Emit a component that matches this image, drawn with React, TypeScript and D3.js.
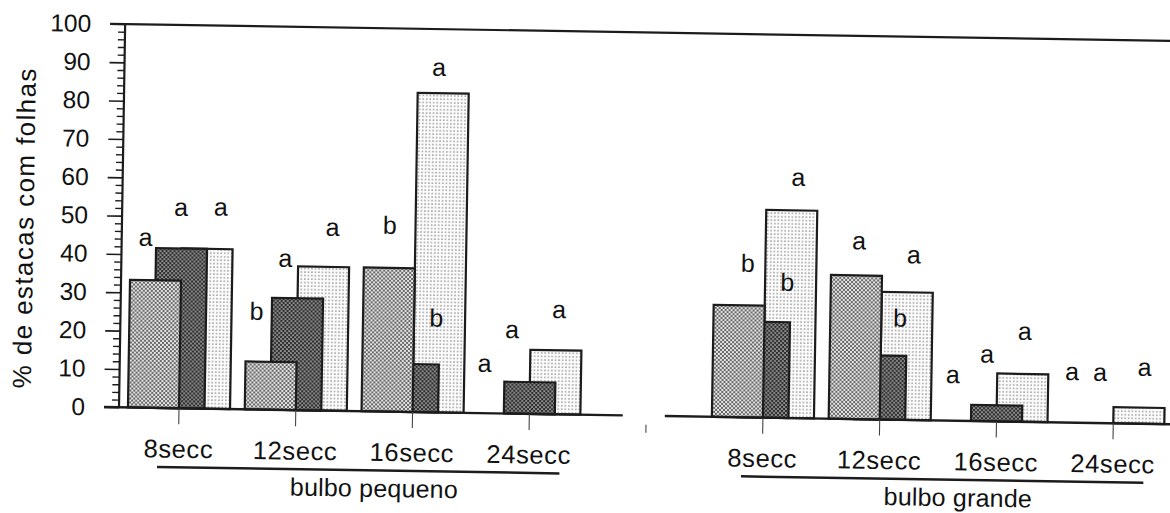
import { useEffect, useRef } from "react";
import * as d3 from "d3";

const bulbs = ["bulbo pequeno", "bulbo grande"];
const times = ["8secc", "12secc", "16secc", "24secc"];
const seriesKeys = ["A", "B", "C"];

// % de estacas com folhas
const pequenoA = [33.3, 12.5, 37.5, 0];
const pequenoB = [41.7, 29.2, 12.5, 8.3];
const pequenoC = [41.7, 37.5, 83.3, 16.7];
const grandeA = [29.2, 37.5, 0, 0];
const grandeB = [25.0, 16.7, 4.2, 0];
const grandeC = [54.2, 33.3, 12.5, 4.2];

// letras de significância, por tempo -> série A/B/C
const pequenoLetters = [["a", "a", "a"], ["b", "a", "a"], ["b", "b", "a"], ["a", "a", "a"]];
const grandeLetters = [["b", "b", "a"], ["a", "b", "a"], ["a", "a", "a"], ["a", "a", "a"]];
// nível (%) onde fica a linha de base de cada letra
const pequenoLetterLevel = [[42.2, 50.2, 50.4], [23.4, 37.3, 45.6], [46.4, 22.4, 87.8], [10.8, 19.7, 25.1]];
const grandeLetterLevel = [[38.0, 33.2, 60.6], [44.3, 24.3, 40.9], [9.8, 15.3, 21.4], [11.1, 11.0, 12.5]];
// deslocamento horizontal da letra, em fração do passo entre tempos
const pequenoLetterShift = [[-0.31, -0.01, 0.33], [-0.35, -0.11, 0.29], [-0.22, 0.19, 0.18], [-0.39, -0.16, 0.24]];
const grandeLetterShift = [[-0.15, 0.19, 0.27], [-0.2, 0.16, 0.27], [-0.38, -0.09, 0.23], [-0.36, -0.12, 0.26]];

const yMajor = d3.range(0, 101, 10);
const yMinor = d3.range(0, 101, 2).filter((v) => v % 10 !== 0);

const FONT = '"Liberation Sans", Arial, Helvetica, sans-serif';
const INK = "#1c1c1c";

export default function App() {
  const yMajorRef = useRef<SVGGElement>(null);
  const yMinorRef = useRef<SVGGElement>(null);

  // 9 posições: 4 tempos, uma vaga, 4 tempos
  const x = d3.scalePoint<number>().domain(d3.range(9)).range([60, 60 + 8 * 116.8]);
  const step = x.step();
  const barW = step * 0.437;
  const xs = d3.scalePoint<string>().domain(seriesKeys).range([-barW / 2, barW / 2]);
  const y = d3.scaleLinear().domain([0, 100]).range([0, -383.3]);

  const values = [
    [pequenoA, pequenoB, pequenoC],
    [grandeA, grandeB, grandeC]
  ];
  const letters = [pequenoLetters, grandeLetters];
  const letterLevel = [pequenoLetterLevel, grandeLetterLevel];
  const letterShift = [pequenoLetterShift, grandeLetterShift];
  const slotOf = (gi: number, ti: number) => gi * 5 + ti;
  const blankSlot = 4;

  type Bar = { key: string; si: number; x: number; v: number };
  const bars: Bar[] = [];
  // série C atrás, A à frente
  for (let si = seriesKeys.length - 1; si >= 0; si--) {
    bulbs.forEach((_, gi) => {
      times.forEach((t, ti) => {
        const v = values[gi]![si]![ti]!;
        if (v <= 0) return;
        const cx = x(slotOf(gi, ti))! + xs(seriesKeys[si]!)!;
        bars.push({ key: `${gi}-${t}-${si}`, si, x: cx - barW / 2, v });
      });
    });
  }

  useEffect(() => {
    if (!yMajorRef.current || !yMinorRef.current) return;
    d3.select(yMajorRef.current)
      .call(d3.axisLeft(y).tickValues(yMajor).tickSize(15).tickPadding(19).tickFormat(d3.format("d")))
      .attr("font-size", 24.5)
      .attr("font-family", FONT)
      .call((g) => g.select(".domain").remove())
      .call((g) => g.selectAll("line").attr("stroke", INK).attr("stroke-width", 1.6))
      .call((g) => g.selectAll("text").attr("fill", "#111"));
    d3.select(yMinorRef.current)
      .call(d3.axisLeft(y).tickValues(yMinor).tickSize(7).tickFormat(() => ""))
      .call((g) => g.select(".domain").remove())
      .call((g) => g.selectAll("line").attr("stroke", INK).attr("stroke-width", 1.4));
  }, []);

  const fills = ["url(#fillA)", "url(#fillB)", "url(#fillC)"];
  const gapL = x(blankSlot)! - step * 0.2;
  const gapR = x(blankSlot)! + step * 0.16;

  return (
    <svg width={1170} height={513} style={{ position: "absolute", left: 0, top: 0, background: "#fff" }}>
      <defs>
        <pattern id="fillA" width={4} height={4} patternUnits="userSpaceOnUse">
          <rect width={4} height={4} fill="#e4e4e4" />
          <circle cx={1} cy={1} r={0.95} fill="#333" />
          <circle cx={3} cy={3} r={0.95} fill="#333" />
        </pattern>
        <pattern id="fillB" width={4} height={4} patternUnits="userSpaceOnUse">
          <rect width={4} height={4} fill="#2e2e2e" />
          <circle cx={1} cy={1} r={0.85} fill="#e0e0e0" />
          <circle cx={3} cy={3} r={0.85} fill="#e0e0e0" />
        </pattern>
        <pattern id="fillC" width={3.5} height={3.5} patternUnits="userSpaceOnUse">
          <rect width={3.5} height={3.5} fill="#fbfbfb" />
          <circle cx={1.75} cy={1.75} r={0.75} fill="#777" />
        </pattern>
      </defs>

      <g transform="translate(119,407.3) rotate(0.92)" fontFamily={FONT} fill="#111">
        {/* título do eixo y */}
        <text
          transform="translate(-88.5,-178) rotate(-90)"
          textAnchor="middle"
          fontSize={26}
          letterSpacing={1.4}
        >
          % de estacas com folhas
        </text>

        <g ref={yMinorRef} />
        <g ref={yMajorRef} />

        {/* eixo y e linha superior */}
        <line x1={0} x2={0} y1={0} y2={y(100)} stroke={INK} strokeWidth={2.2} />
        <line x1={-15} x2={1100} y1={y(100)} y2={y(100)} stroke={INK} strokeWidth={2.2} />

        {bars.map((b) => (
          <rect
            key={b.key}
            x={b.x}
            y={y(b.v)}
            width={barW}
            height={y(0) - y(b.v)}
            fill={fills[b.si]}
            stroke={INK}
            strokeWidth={2.2}
          />
        ))}

        {/* linha de base, interrompida na vaga */}
        <line x1={-15} x2={gapL} y1={0} y2={0} stroke={INK} strokeWidth={2.4} />
        <line x1={gapR} x2={1100} y1={0} y2={0} stroke={INK} strokeWidth={2.4} />
        <line x1={x(blankSlot)} x2={x(blankSlot)} y1={9} y2={17} stroke="#555" strokeWidth={1.2} />

        {bulbs.map((b, gi) => {
          const first = x(slotOf(gi, 0))!;
          const last = x(slotOf(gi, times.length - 1))!;
          return (
            <g key={b}>
              {times.map((t, ti) => (
                <g key={t} transform={`translate(${x(slotOf(gi, ti))},0)`}>
                  <line y1={0} y2={16} stroke="#444" strokeWidth={1.1} />
                  <text y={49.5} textAnchor="middle" fontSize={25.5} letterSpacing={0.6}>
                    {t}
                  </text>
                </g>
              ))}
              <line x1={first - 21} x2={last + 31} y1={59} y2={59} stroke={INK} strokeWidth={2.5} />
              <text x={(first + last) / 2 + 21} y={85.5} textAnchor="middle" fontSize={25} letterSpacing={0.2}>
                {b}
              </text>
              {times.map((t, ti) =>
                seriesKeys.map((s, si) => (
                  <text
                    key={`${t}-${s}`}
                    x={x(slotOf(gi, ti))! + letterShift[gi]![ti]![si]! * step}
                    y={y(letterLevel[gi]![ti]![si]!)}
                    textAnchor="middle"
                    fontSize={25}
                  >
                    {letters[gi]![ti]![si]}
                  </text>
                ))
              )}
            </g>
          );
        })}
      </g>
    </svg>
  );
}
